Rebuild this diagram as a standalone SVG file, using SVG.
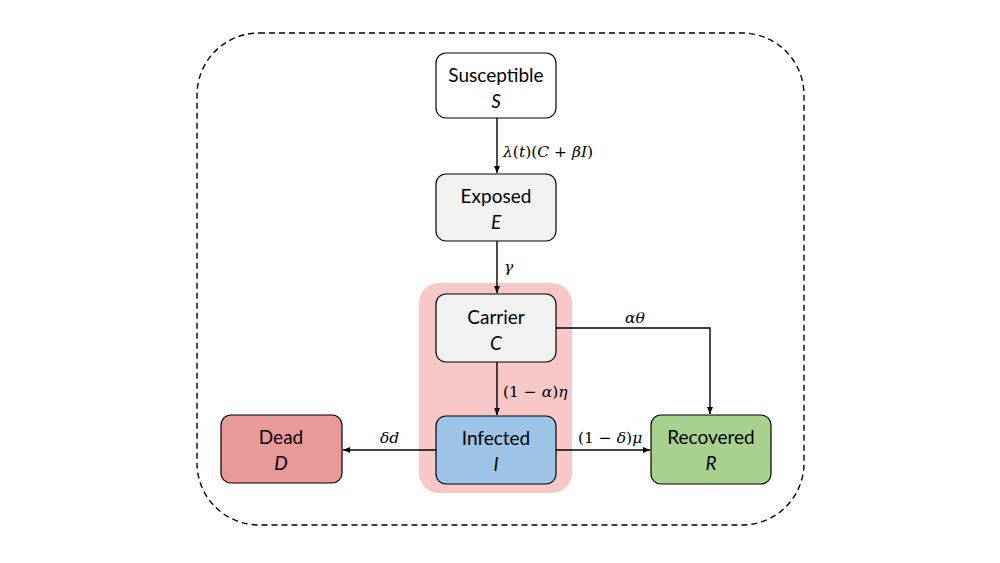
<svg xmlns="http://www.w3.org/2000/svg" width="1000" height="563" viewBox="0 0 1000 563">
<style>
.box{stroke:#000;stroke-width:1.2}
.t{font-family:Lato,"Open Sans","Liberation Sans",sans-serif;font-size:19px;text-anchor:middle;fill:#000}
.ti{font-style:italic}
.m{font-family:"DejaVu Serif","Liberation Serif",serif;font-size:15.5px;fill:#000}
.i{font-style:italic}
.c{fill:none;stroke:#000;stroke-width:1.4}
</style>
<defs>
<marker id="ah" markerWidth="8" markerHeight="8" refX="7" refY="4" orient="auto" markerUnits="userSpaceOnUse">
<path d="M0,1 L7,4 L0,7 Z" fill="#000"/>
</marker>
</defs>
<rect width="1000" height="563" fill="#fff"/>
<rect id="boundary" x="197" y="33" width="607" height="492" rx="62" fill="none" stroke="#000" stroke-width="1.4" stroke-dasharray="6,4"/>
<rect id="carrier-group" x="419" y="283" width="153" height="210" rx="20" fill="#f8c8c8"/>
<g id="connectors">
<line class="c" x1="497" y1="118" x2="497" y2="173" marker-end="url(#ah)"/>
<line class="c" x1="497" y1="241" x2="497" y2="293" marker-end="url(#ah)"/>
<line class="c" x1="497" y1="362" x2="497" y2="415" marker-end="url(#ah)"/>
<polyline class="c" points="556,328 710,328 710,414" marker-end="url(#ah)"/>
<line class="c" x1="556" y1="450" x2="650" y2="450" marker-end="url(#ah)"/>
<line class="c" x1="436" y1="450" x2="343" y2="450" marker-end="url(#ah)"/>
<text class="m" x="503" y="157"><tspan class="i">λ</tspan>(<tspan class="i">t</tspan>)(<tspan class="i">C</tspan> + <tspan class="i">βI</tspan>)</text>
<text class="m i" x="504" y="272">γ</text>
<text class="m i" x="625" y="323">αθ</text>
<text class="m" x="503" y="397">(1 − <tspan class="i">α</tspan>)<tspan class="i">η</tspan></text>
<text class="m i" x="380" y="443">δd</text>
<text class="m" x="578" y="443">(1 − <tspan class="i">δ</tspan>)<tspan class="i">μ</tspan></text>
</g>
<g id="susceptible">
<rect class="box" x="436" y="53" width="120" height="65" rx="10" fill="#fff"/>
<text class="t" x="496" y="82">Susceptible</text>
<text class="t ti" x="496" y="108">S</text>
</g>
<g id="exposed">
<rect class="box" x="436" y="174" width="120" height="67" rx="10" fill="#f2f2f2"/>
<text class="t" x="496" y="203">Exposed</text>
<text class="t ti" x="496" y="229">E</text>
</g>
<g id="carrier">
<rect class="box" x="436" y="294" width="120" height="68" rx="10" fill="#f2f2f2"/>
<text class="t" x="496" y="324">Carrier</text>
<text class="t ti" x="496" y="350">C</text>
</g>
<g id="infected">
<rect class="box" x="436" y="416" width="120" height="68" rx="10" fill="#9dc3e6"/>
<text class="t" x="496" y="445">Infected</text>
<text class="t ti" x="496" y="471">I</text>
</g>
<g id="dead">
<rect class="box" x="221" y="415" width="121" height="68" rx="10" fill="#ea9999"/>
<text class="t" x="281" y="444">Dead</text>
<text class="t ti" x="281" y="470">D</text>
</g>
<g id="recovered">
<rect class="box" x="651" y="415" width="120" height="69" rx="10" fill="#a9d18e"/>
<text class="t" x="711" y="444">Recovered</text>
<text class="t ti" x="711" y="470">R</text>
</g>
</svg>
